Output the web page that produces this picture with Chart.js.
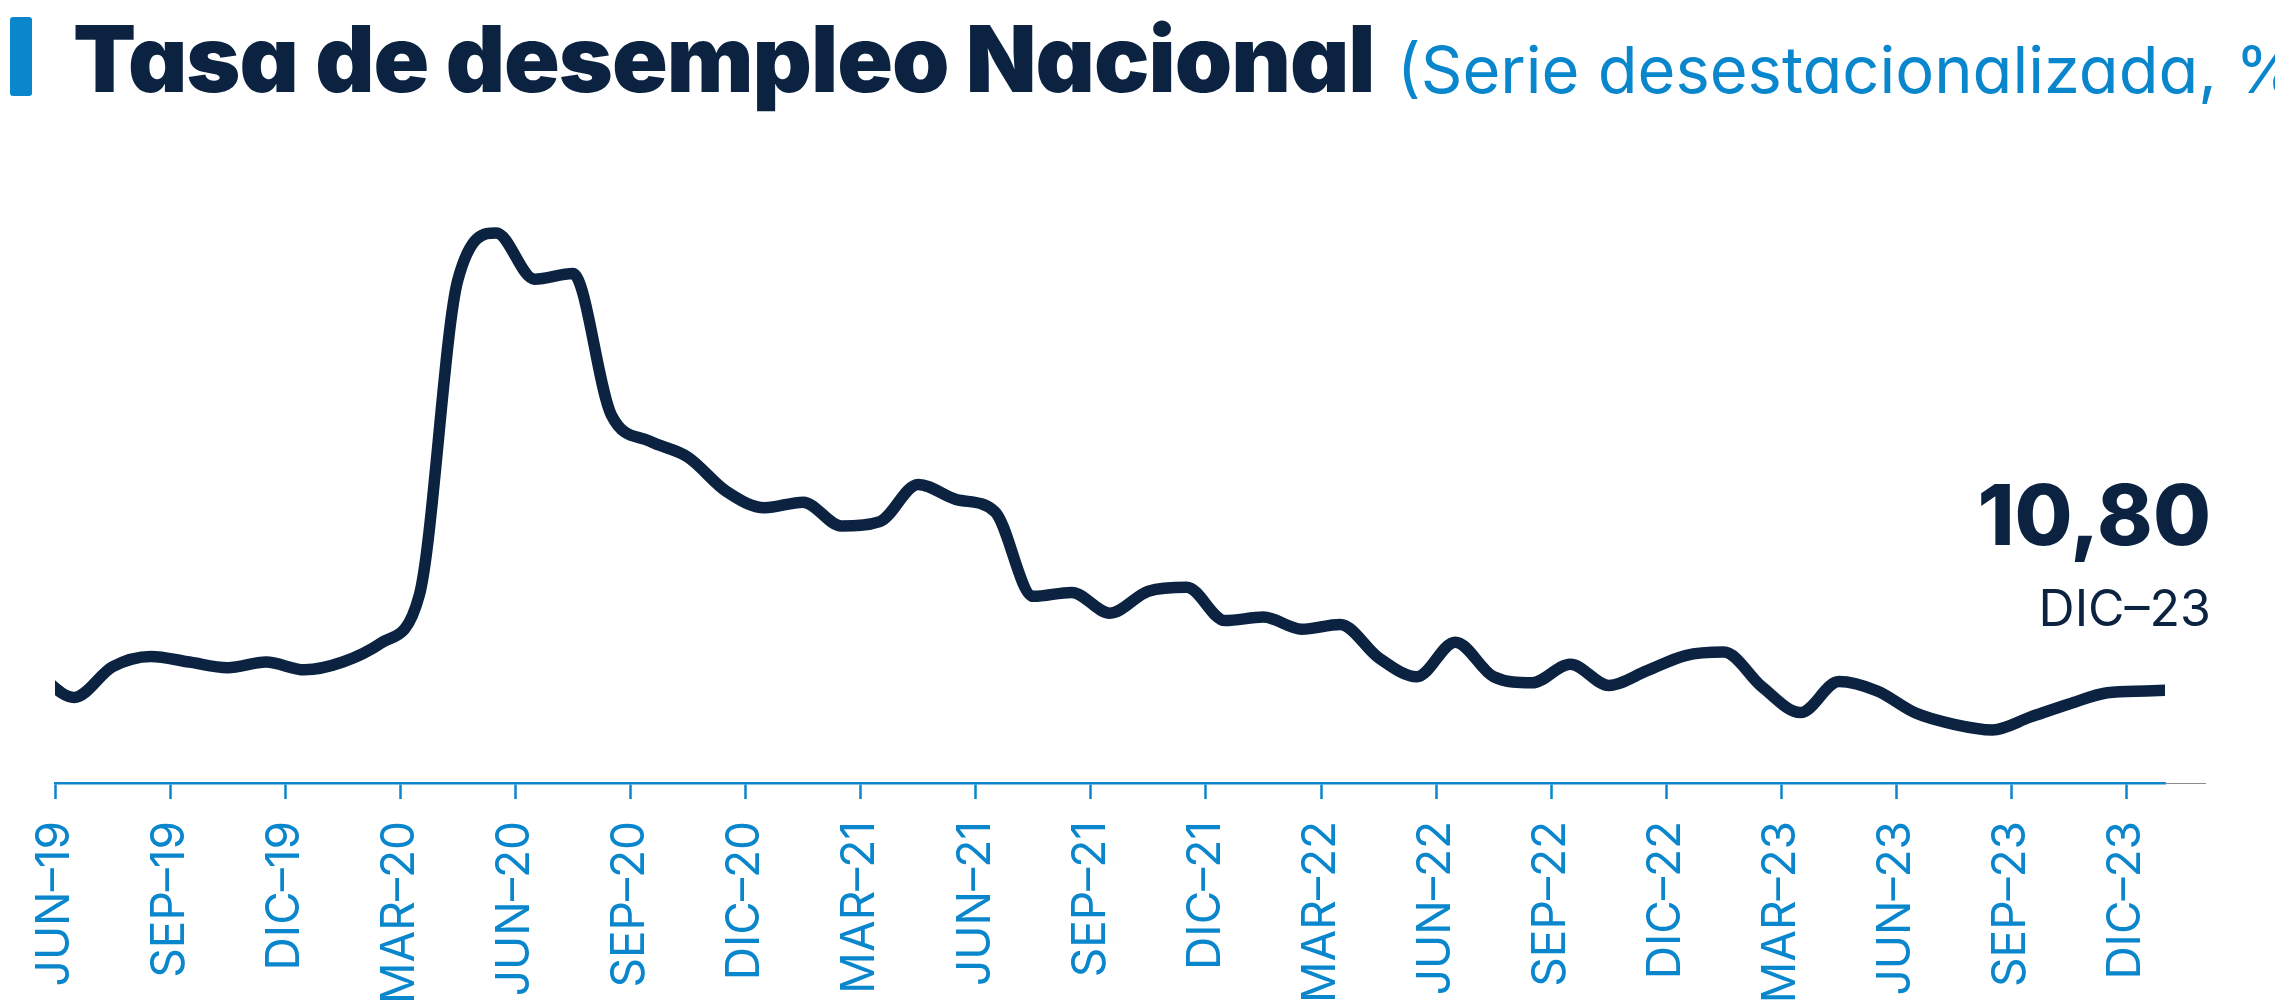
<!DOCTYPE html>
<html lang="es">
<head>
<meta charset="utf-8">
<title>Tasa de desempleo Nacional</title>
<script src="https://cdn.jsdelivr.net/npm/chart.js@4.4.1/dist/chart.umd.min.js"></script>
<style>
  html, body { margin: 0; padding: 0; background: #fff; overflow: hidden; }
  body { width: 2275px; height: 1006px; position: relative; font-family: Inter, 'Noto Sans', sans-serif; font-feature-settings: "cv11"; }
  .bar { position: absolute; left: 10px; top: 17px; width: 22px; height: 79px; background: #0a86cd; border-radius: 3px; }
  .title { position: absolute; left: 73px; top: 13px; font-size: 92px; line-height: 1; font-weight: 900; color: #0b2341; white-space: nowrap; letter-spacing: -1px; }
  .subtitle { position: absolute; left: 1397px; top: 37px; font-size: 65px; line-height: 1; font-weight: 400; color: #0a86cd; white-space: nowrap; }
  .last { position: absolute; right: 64px; font-weight: 800; color: #0b2341; line-height: 1; text-align: right; white-space: nowrap; }
  .last-value { top: 473px; font-size: 84px; }
  .last-date { top: 583px; font-size: 50px; font-weight: 400; }
  #wrap { position: absolute; left: 0; top: 0; width: 2275px; height: 1006px; }
</style>
</head>
<body>
<div class="bar"></div>
<div class="title">Tasa de desempleo Nacional</div>
<div class="subtitle">(Serie desestacionalizada, %)</div>
<div id="wrap"><canvas id="chart"></canvas></div>
<div class="last last-value">10,80</div>
<div class="last last-date">DIC–23</div>

<script>
// Meses (punto a mitad de mes; el eje arranca el 1 de junio de 2019)
const months = [
  'MAY-19', 'JUN-19', 'JUL-19', 'AGO-19', 'SEP-19', 'OCT-19', 'NOV-19', 'DIC-19',
  'ENE-20', 'FEB-20', 'MAR-20', 'ABR-20', 'MAY-20', 'JUN-20', 'JUL-20', 'AGO-20',
  'SEP-20', 'OCT-20', 'NOV-20', 'DIC-20', 'ENE-21', 'FEB-21', 'MAR-21', 'ABR-21',
  'MAY-21', 'JUN-21', 'JUL-21', 'AGO-21', 'SEP-21', 'OCT-21', 'NOV-21', 'DIC-21',
  'ENE-22', 'FEB-22', 'MAR-22', 'ABR-22', 'MAY-22', 'JUN-22', 'JUL-22', 'AGO-22',
  'SEP-22', 'OCT-22', 'NOV-22', 'DIC-22', 'ENE-23', 'FEB-23', 'MAR-23', 'ABR-23',
  'MAY-23', 'JUN-23', 'JUL-23', 'AGO-23', 'SEP-23', 'OCT-23', 'NOV-23', 'DIC-23',
  'ENE-24',
];

const desempleo = [
  11.24, 10.65, 11.36, 11.60, 11.47, 11.34, 11.47, 11.29,
  11.47, 11.91, 13.03, 20.31, 21.40, 20.33, 20.46, 17.19,
  16.58, 16.21, 15.42, 15.04, 15.17, 14.62, 14.72, 15.58,
  15.23, 14.95, 12.99, 13.08, 12.60, 13.11, 13.20, 12.43,
  12.51, 12.23, 12.34, 11.57, 11.13, 11.93, 11.13, 10.99,
  11.42, 10.93, 11.27, 11.62, 11.70, 10.89, 10.30, 11.02,
  10.80, 10.29, 10.03, 9.90, 10.20, 10.50, 10.76, 10.80,
  10.83,
];

const tickLabels = [
  'JUN–19', 'SEP–19', 'DIC–19', 'MAR–20', 'JUN–20', 'SEP–20', 'DIC–20',
  'MAR–21', 'JUN–21', 'SEP–21', 'DIC–21', 'MAR–22', 'JUN–22', 'SEP–22',
  'DIC–22', 'MAR–23', 'JUN–23', 'SEP–23', 'DIC–23',
];

const NAVY = '#0b2341';
const BLUE = '#0a86cd';

// prolonga el eje con una línea gris fina a la derecha
const axisTail = {
  id: 'axisTail',
  afterDraw(chart) {
    const { ctx, chartArea } = chart;
    ctx.save();
    ctx.strokeStyle = '#8c8c8c';
    ctx.lineWidth = 1;
    ctx.beginPath();
    ctx.moveTo(chartArea.right, chartArea.bottom + 0.5);
    ctx.lineTo(chartArea.right + 41, chartArea.bottom + 0.5);
    ctx.stroke();
    ctx.restore();
  },
};

new Chart(document.getElementById('chart'), {
  type: 'line',
  data: {
    datasets: [{
      label: 'Tasa de desempleo',
      data: desempleo.map((v, i) => ({ x: i - 0.5, y: v })),
      borderColor: NAVY,
      borderWidth: 11.5,
      pointRadius: 0,
      cubicInterpolationMode: 'monotone',
      borderCapStyle: 'butt',
      borderJoinStyle: 'round',
      clip: 0,
    }],
  },
  options: {
    responsive: true,
    maintainAspectRatio: false,
    animation: false,
    layout: { padding: { left: 55, right: 110, top: 200, bottom: 0 } },
    plugins: { legend: { display: false }, tooltip: { enabled: false } },
    scales: {
      y: { display: false, min: 8.671, max: 22.162 },
      x: {
        type: 'linear',
        min: 0,
        max: 55,
        afterBuildTicks: (scale) => {
          scale.ticks = tickLabels.map((_, i) => ({ value: i * 3 }));
        },
        afterFit: (scale) => { scale.height = 223; },
        border: { display: true, color: BLUE, width: 2.5 },
        grid: { drawOnChartArea: false, drawTicks: true, tickLength: 16, tickWidth: 2.5, tickColor: BLUE },
        ticks: {
          autoSkip: false,
          minRotation: 90,
          maxRotation: 90,
          padding: 22,
          color: BLUE,
          font: { family: 'Inter', size: 46 },
          callback: (v) => tickLabels[v / 3] ?? '',
        },
      },
    },
  },
  plugins: [axisTail],
});
</script>
</body>
</html>
